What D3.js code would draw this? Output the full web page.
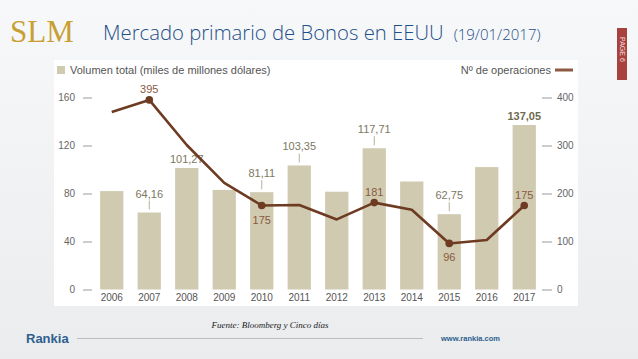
<!DOCTYPE html>
<html lang="es">
<head>
<meta charset="UTF-8">
<title>Mercado primario de Bonos en EEUU</title>
<script src="https://d3js.org/d3.v7.min.js"></script>
<style>
    body { margin: 0; padding: 0; }
    svg { display: block; }
    .narrow { font-family: "Liberation Sans Narrow", "Liberation Sans", Arial, sans-serif; }
</style>
</head>
<body>
<svg id="chart" width="638" height="359"></svg>
<script>
// datos
const years = ["2006","2007","2008","2009","2010","2011","2012","2013","2014","2015","2016","2017"];
const volumen = [82, 64.16, 101.27, 83, 81.11, 103.35, 81.5, 117.71, 90, 62.75, 102, 137.05];
const volumenLabels = [null, "64,16", "101,27", null, "81,11", "103,35", null, "117,71", null, "62,75", null, "137,05"];
const operaciones = [370, 395, 301, 222, 175, 176, 146, 181, 166, 96, 103, 175];
const operacionesLabels = [null, "395", null, null, "175", null, null, "181", null, "96", null, "175"];
const leftTicks = [0, 40, 80, 120, 160];
const rightTicks = [0, 100, 200, 300, 400];

// estilos
const barColor = "#cfcab0";
const lineColor = "#6e3b22";
const barLabelColor = "#7c7760";
const lineLabelColor = "#8a5a3e";
const noLeader = ["2008", "2017"];           // etiquetas pegadas a la barra
const labelBelow = ["2010", "2015"];          // etiquetas de la línea bajo el punto

const svg = d3.select("#chart");

// fondo
const defs = svg.append("defs");
const grad = defs.append("linearGradient").attr("id", "bg").attr("x1", 0).attr("y1", 0).attr("x2", 0).attr("y2", 1);
grad.append("stop").attr("offset", "0%").attr("stop-color", "#f7f8f9");
grad.append("stop").attr("offset", "100%").attr("stop-color", "#eaecee");
svg.append("rect").attr("width", 638).attr("height", 359).attr("fill", "url(#bg)");

// cabecera
svg.append("text")
    .attr("x", 10).attr("y", 42)
    .style("font-family", "'Liberation Serif', 'DejaVu Serif', serif")
    .style("font-size", "31px")
    .style("fill", "#c99f35")
    .text("SLM");

const title = svg.append("text")
    .attr("x", 103).attr("y", 40)
    .style("font-family", "'Open Sans', sans-serif")
    .style("font-weight", 300)
    .style("fill", "#1f4f88");
title.append("tspan").style("font-size", "20.3px").text("Mercado primario de Bonos en EEUU");
title.append("tspan").attr("dx", 10).style("font-size", "15px").text("(19/01/2017)");

// pestaña de página
svg.append("rect").attr("x", 617).attr("y", 28).attr("width", 10).attr("height", 52).attr("fill", "#a8423f");
svg.append("text")
    .attr("transform", "translate(619.5,37) rotate(90)")
    .style("font-family", "'Liberation Sans', sans-serif")
    .style("font-size", "7px")
    .style("fill", "#f3dede")
    .text("PAGE 6");

// panel del gráfico
svg.append("rect").attr("x", 54).attr("y", 60).attr("width", 524).attr("height", 246).attr("fill", "#ffffff");

const x = d3.scaleBand().domain(years).range([93, 543]).paddingInner(0.38).paddingOuter(0.19);
const yL = d3.scaleLinear().domain([0, 160]).range([289.5, 97.5]);
const yR = d3.scaleLinear().domain([0, 400]).range([289.5, 97.5]);

// leyenda
svg.append("rect").attr("x", 57).attr("y", 66).attr("width", 8).attr("height", 8).attr("fill", barColor);
svg.append("text").attr("class", "narrow")
    .attr("x", 70).attr("y", 74)
    .style("font-size", "11px").style("fill", "#555")
    .text("Volumen total (miles de millones dólares)");
svg.append("text").attr("class", "narrow")
    .attr("x", 551).attr("y", 74).attr("text-anchor", "end")
    .style("font-size", "11px").style("fill", "#555")
    .text("Nº de operaciones");
svg.append("line").attr("x1", 555).attr("x2", 573).attr("y1", 70).attr("y2", 70)
    .attr("stroke", "#8b5a40").attr("stroke-width", 3);

// ejes
const axisL = svg.append("g").attr("class", "narrow")
    .attr("transform", "translate(92,0)")
    .call(d3.axisLeft(yL).tickValues(leftTicks).tickSize(9).tickPadding(8));
const axisR = svg.append("g").attr("class", "narrow")
    .attr("transform", "translate(542,0)")
    .call(d3.axisRight(yR).tickValues(rightTicks).tickSize(10).tickPadding(5));
[axisL, axisR].forEach(a => {
    a.select(".domain").remove();
    a.selectAll("line").attr("stroke", "#9a9a9a");
    a.selectAll("text").style("font-size", "10px").style("fill", "#666").style("font-family", null);
});

const axisX = svg.append("g").attr("class", "narrow")
    .attr("transform", "translate(0,289.5)")
    .call(d3.axisBottom(x).tickSize(0).tickPadding(4));
axisX.select(".domain").remove();
axisX.selectAll("text").style("font-size", "10px").style("fill", "#555").style("font-family", null);

// barras
const data = years.map((y, i) => ({ year: y, vol: volumen[i], volLabel: volumenLabels[i], ops: operaciones[i], opsLabel: operacionesLabels[i] }));

svg.append("g").selectAll("rect")
    .data(data)
    .join("rect")
    .attr("x", d => x(d.year))
    .attr("y", d => yL(d.vol))
    .attr("width", x.bandwidth())
    .attr("height", d => yL(0) - yL(d.vol))
    .attr("fill", barColor);

// etiquetas de barras
const withVol = data.filter(d => d.volLabel);
svg.append("g").selectAll("line")
    .data(withVol.filter(d => !noLeader.includes(d.year)))
    .join("line")
    .attr("x1", d => x(d.year) + x.bandwidth() / 2)
    .attr("x2", d => x(d.year) + x.bandwidth() / 2)
    .attr("y1", d => yL(d.vol) - 12)
    .attr("y2", d => yL(d.vol) - 3)
    .attr("stroke", "#b5b09a").attr("stroke-width", 1);

svg.append("g").attr("class", "narrow").selectAll("text")
    .data(withVol)
    .join("text")
    .attr("x", d => x(d.year) + x.bandwidth() / 2)
    .attr("y", d => yL(d.vol) - (noLeader.includes(d.year) ? 5 : 15))
    .attr("text-anchor", "middle")
    .style("font-size", "11px")
    .style("font-weight", d => d.year === "2017" ? "bold" : "normal")
    .style("fill", d => d.year === "2017" ? "#6f6a4f" : barLabelColor)
    .text(d => d.volLabel);

// línea de operaciones
const line = d3.line()
    .x(d => x(d.year) + x.bandwidth() / 2)
    .y(d => yR(d.ops));

svg.append("path")
    .datum(data)
    .attr("fill", "none")
    .attr("stroke", lineColor)
    .attr("stroke-width", 2.6)
    .attr("stroke-linejoin", "round")
    .attr("d", line);

const withOps = data.filter(d => d.opsLabel);
svg.append("g").selectAll("circle")
    .data(withOps)
    .join("circle")
    .attr("cx", d => x(d.year) + x.bandwidth() / 2)
    .attr("cy", d => yR(d.ops))
    .attr("r", 3.8)
    .attr("fill", lineColor);

svg.append("g").attr("class", "narrow").selectAll("text")
    .data(withOps)
    .join("text")
    .attr("x", d => x(d.year) + x.bandwidth() / 2)
    .attr("y", d => yR(d.ops) + (labelBelow.includes(d.year) ? 18 : -7))
    .attr("text-anchor", "middle")
    .style("font-size", "11px")
    .style("fill", lineLabelColor)
    .text(d => d.opsLabel);

// pie
svg.append("text")
    .attr("x", 270).attr("y", 328).attr("text-anchor", "middle")
    .style("font-family", "'Liberation Serif', serif")
    .style("font-style", "italic")
    .style("font-size", "9px")
    .style("fill", "#222")
    .text("Fuente: Bloomberg y Cinco días");

svg.append("text")
    .attr("x", 26).attr("y", 343)
    .style("font-family", "'Liberation Sans', sans-serif")
    .style("font-weight", "bold")
    .style("font-size", "13px")
    .style("fill", "#2e5f8e")
    .text("Rankia");
svg.append("line").attr("x1", 77).attr("x2", 423).attr("y1", 338.5).attr("y2", 338.5)
    .attr("stroke", "#b9bcc0").attr("stroke-width", 1);
svg.append("text")
    .attr("x", 441).attr("y", 341)
    .style("font-family", "'Liberation Sans', sans-serif")
    .style("font-weight", "bold")
    .style("font-size", "7.5px")
    .style("fill", "#2e5f8e")
    .text("www.rankia.com");
</script>
</body>
</html>
